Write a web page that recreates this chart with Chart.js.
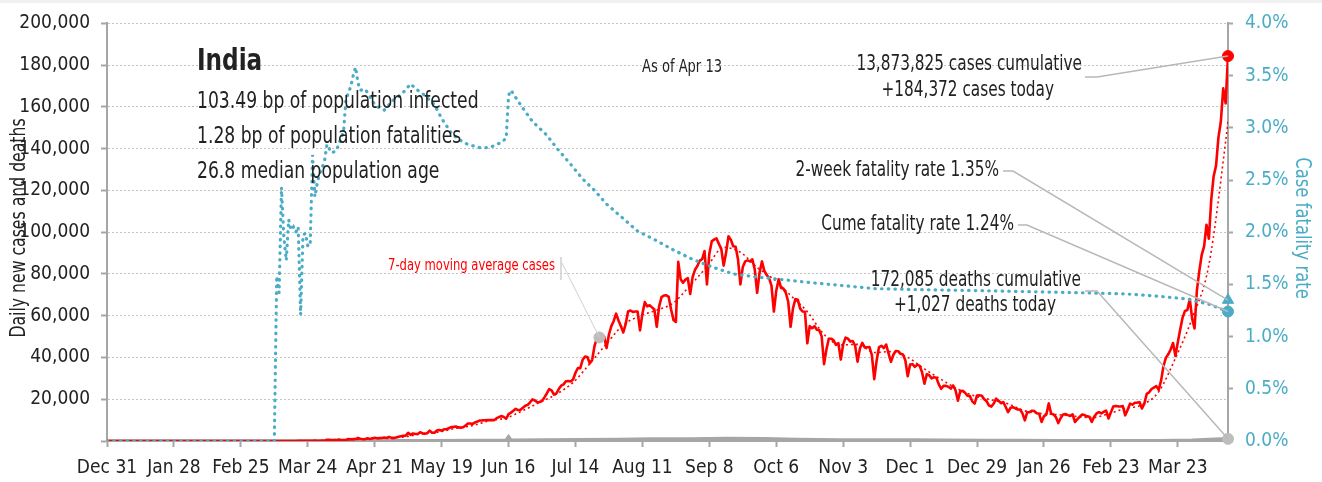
<!DOCTYPE html>
<html>
<head>
<meta charset="utf-8">
<title>India daily cases and case fatality rate</title>
<script src="https://cdn.jsdelivr.net/npm/chart.js@4.4.1/dist/chart.umd.min.js"></script>
<style>
  html, body { margin: 0; padding: 0; background: #fff; }
  canvas { display: block; }
</style>
</head>
<body>
<canvas id="chart" width="1322" height="482"></canvas>
<script>
// x axis is days since Dec 31, 2019; a tick every 28 days
const tickLabels = ['Dec 31', 'Jan 28', 'Feb 25', 'Mar 24', 'Apr 21', 'May 19', 'Jun 16', 'Jul 14',
  'Aug 11', 'Sep 8', 'Oct 6', 'Nov 3', 'Dec 1', 'Dec 29', 'Jan 26', 'Feb 23', 'Mar 23'];
const lastDay = 469; // Apr 13

// daily new cases, one value per day starting Mar 3, 2020
const caseStartDay = 63;
const dailyCases = [
  2, 22, 2, 1, 3, 5, 9,
  15, 8, 10, 10, 12, 11, 23,
  15, 26, 31, 58, 77, 91, 76,
  71, 94, 86, 161, 108, 92, 227,
  146, 601, 545, 478, 515, 505, 704,
  508, 485, 591, 896, 768, 918, 905,
  1463, 1118, 826, 878, 1308, 991, 1334,
  1553, 1336, 1383, 1409, 1684, 1429, 1975,
  1490, 1396, 1718, 1993, 2293, 2487, 2573,
  3932, 2963, 3587, 3364, 3344, 4213, 3604,
  3525, 3722, 4970, 3967, 3970, 4987, 5242,
  4970, 5611, 5609, 6088, 6654, 6767, 6977,
  6535, 6387, 6566, 7466, 8380, 8392, 8171,
  8909, 9304, 9851, 9887, 9971, 9983, 9987,
  9985, 9996, 10956, 11458, 11929, 11502, 10667,
  12881, 13586, 14516, 15413, 14821, 14933, 15968,
  16922, 17296, 18552, 19906, 19459, 18522, 18653,
  19148, 20903, 22771, 24850, 24248, 22252, 22752,
  24879, 26506, 27114, 28637, 28701, 28498, 29429,
  32695, 34956, 34884, 38902, 40425, 40243, 37148,
  39000, 45720, 49310, 48916, 48661, 49931, 44500,
  51000, 55000, 57500, 61000, 57700, 55000, 52000,
  56000, 62000, 62500, 61800, 62000, 62000, 53000,
  60900, 66500, 64500, 65000, 64000, 63000, 54700,
  64500, 68900, 69700, 69800, 69000, 63000, 58000,
  57000, 85800, 77500, 75800, 77300, 78000, 70400,
  78500, 82000, 83800, 86400, 87100, 91000, 75000,
  89700, 95600, 96500, 97000, 94400, 92000, 84000,
  90100, 98000, 96400, 93300, 93000, 86900, 75000,
  83300, 86000, 86500, 86000, 87000, 82200, 71000,
  80500, 86000, 81500, 79500, 78000, 74400, 62000,
  72000, 77500, 73300, 73000, 71000, 66700, 54700,
  63500, 68000, 67700, 63400, 62000, 61900, 46800,
  55000, 54000, 55000, 53300, 53000, 50100, 36800,
  43900, 49000, 49000, 48200, 46000, 46900, 39000,
  46300, 49500, 49000, 47600, 47900, 45700, 38000,
  44300, 47000, 44800, 44900, 45000, 41100, 29600,
  38600, 45000, 45600, 44500, 46200, 41800, 37900,
  41300, 43100, 43000, 41800, 41400, 38700, 31000,
  36600, 36800, 35500, 36600, 36000, 32900, 27400,
  32000, 31500, 30000, 30500, 30300, 27100, 25000,
  26400, 26400, 26000, 25100, 26600, 24300, 19300,
  23900, 24000, 23100, 21700, 21500, 19000, 17900,
  21800, 21900, 21700, 20000, 19100, 17000, 16500,
  18000, 20300, 19300, 18100, 18600, 16300, 13800,
  15900, 16200, 15600, 15100, 15100, 13200, 9900,
  13800, 13800, 14500, 14300, 13300, 13000, 9100,
  11800, 12700, 18000, 13100, 12700, 11400, 8600,
  11000, 12700, 12900, 12400, 12000, 12700, 9100,
  10500, 11600, 12700, 12400, 11800, 11600, 9100,
  11600, 13200, 13800, 13200, 13900, 14600, 10800,
  13700, 16500, 16800, 16600, 16500, 16700, 12300,
  14900, 17900, 17400, 18300, 18400, 18600, 15600,
  17900, 22600, 23300, 24900, 25600, 26300, 24500,
  28900, 35800, 39800, 41500, 43800, 46900, 40700,
  47300, 53400, 59100, 62300, 62700, 68000, 58600,
  53900, 72300, 81500, 89100, 93200, 103600, 96900,
  115700, 126800, 131900, 145400, 152900, 168900, 161700,
  184372
];

// 7-day moving average of cases
const maDays = [0, 69, 76, 83, 90, 97, 104, 111, 118, 125, 132, 139, 146, 153, 160, 167, 174, 181,
  188, 195, 202, 209, 216, 223, 230, 237, 244, 251, 258, 265, 272, 279, 286, 293, 300, 307, 314,
  321, 328, 335, 342, 349, 356, 363, 370, 377, 384, 391, 398, 405, 412, 419, 426, 433, 440, 447,
  454, 461, 468, 469];
const maValues = [0, 3, 13, 53, 120, 500, 725, 1130, 1510, 2060, 3510, 4330, 6100, 7420, 9700,
  11070, 14590, 18470, 22420, 28000, 37040, 46580, 55600, 59900, 62660, 66130, 74540, 83400,
  92740, 90390, 83140, 77410, 69740, 61900, 51030, 46000, 46290, 42390, 42800, 40040, 34540,
  29490, 24870, 21590, 19710, 17770, 14430, 13110, 12610, 11830, 11190, 13010, 15590, 17300,
  23590, 39630, 58770, 84360, 143330, 153140];

// daily deaths
const deathDays = [0, 72, 92, 106, 122, 136, 153, 167, 168, 169, 183, 197, 214, 228, 245, 259,
  275, 289, 306, 320, 336, 350, 367, 381, 398, 412, 426, 440, 454, 461, 469];
const deathValues = [0, 1, 20, 40, 70, 120, 230, 380, 2003, 340, 420, 550, 760, 940, 1000, 1150,
  1100, 750, 520, 480, 500, 390, 260, 180, 110, 100, 110, 160, 400, 700, 1027];

// cumulative case fatality rate, %
const cfrDays = [0, 70, 71, 72, 73, 74, 75, 76, 77, 78, 79, 80, 81, 82, 83, 84, 85, 86, 87, 88,
  89, 90, 91, 92, 93, 94, 95, 96, 97, 98, 99, 100, 101, 102, 103, 104, 105, 106, 108, 110, 112,
  114, 116, 118, 120, 122, 124, 127, 130, 132, 137, 140, 144, 147, 151, 156, 160, 165, 167, 168,
  169, 173, 178, 184, 188, 194, 199, 204, 209, 215, 222, 229, 237, 245, 254, 262, 272, 281, 293,
  307, 321, 340, 366, 408, 425, 438, 452, 461, 469];
const cfrValues = [0, 0, 1.58, 1.42, 2.43, 1.95, 1.73, 2.12, 2.02, 2.05, 2.0, 2.05, 1.21, 1.97,
  1.99, 1.87, 1.87, 2.74, 2.34, 2.48, 2.56, 2.62, 2.68, 2.84, 2.8, 2.76, 2.77, 2.78, 2.85, 2.9,
  2.97, 3.28, 3.33, 3.4, 3.5, 3.58, 3.43, 3.36, 3.37, 3.3, 3.22, 3.19, 3.17, 3.22, 3.27, 3.3,
  3.34, 3.42, 3.36, 3.33, 3.22, 3.09, 2.95, 2.89, 2.84, 2.81, 2.81, 2.86, 2.9, 3.31, 3.36, 3.22,
  3.06, 2.93, 2.81, 2.65, 2.51, 2.40, 2.27, 2.15, 2.01, 1.93, 1.83, 1.74, 1.66, 1.60, 1.57, 1.55,
  1.52, 1.49, 1.46, 1.45, 1.44, 1.42, 1.41, 1.39, 1.36, 1.31, 1.24];

const cfrTwoWeek = 1.35;
const totalCases = 13873825;
const totalDeaths = 172085;
const maMarker = { day: 206, value: 49600 };

const todayCases = dailyCases[dailyCases.length - 1];
const todayDeaths = deathValues[deathValues.length - 1];
const cfrCume = cfrValues[cfrValues.length - 1];

const FONT = '"DejaVu Sans Condensed", "Liberation Sans Narrow", sans-serif';
const SQUEEZE = 0.83; // horizontal squeeze for the annotation text
const RED = '#ff0000';
const BLUE = '#4bacc6';
const GREY = '#a6a6a6';
const INK = '#222222';

const pts = (days, vals) => days.map((d, i) => ({ x: d, y: vals[i] }));
const fmt = v => v.toLocaleString('en-US');

const casePoints = [{ x: 0, y: 0 }].concat(dailyCases.map((v, i) => ({ x: caseStartDay + i, y: v })));

const notes = [
  { text: 'India', x: 197, y: 62, size: 31, weight: 'bold' },
  { text: '103.49 bp of population infected', x: 197, y: 102, size: 23 },
  { text: '1.28 bp of population fatalities', x: 197, y: 137, size: 23 },
  { text: '26.8 median population age', x: 197, y: 172, size: 23 },
  { text: 'As of Apr 13', x: 682, y: 67, size: 17.5, align: 'center' },
  { text: fmt(totalCases) + ' cases cumulative', x: 1082, y: 65, size: 20.5, align: 'right' },
  { text: '+' + fmt(todayCases) + ' cases today', x: 1054, y: 91, size: 20.5, align: 'right' },
  { text: '2-week fatality rate ' + cfrTwoWeek.toFixed(2) + '%', x: 999, y: 171, size: 20.5, align: 'right' },
  { text: 'Cume fatality rate ' + cfrCume.toFixed(2) + '%', x: 1014, y: 225, size: 20.5, align: 'right' },
  { text: fmt(totalDeaths) + ' deaths cumulative', x: 1081, y: 281, size: 20.5, align: 'right' },
  { text: '+' + fmt(todayDeaths) + ' deaths today', x: 1056, y: 306, size: 20.5, align: 'right' },
  { text: '7-day moving average cases', x: 555, y: 266, size: 15.5, align: 'right', color: RED }
];

// leader lines: fixed start near the label, end on a data point
const leaders = [
  { path: [[1085, 77], [1097, 77]], day: lastDay, value: todayCases, axis: 'y' },
  { path: [[1003, 171], [1013, 171]], day: lastDay, value: cfrTwoWeek, axis: 'y1' },
  { path: [[1018, 225], [1027, 225]], day: lastDay, value: cfrCume, axis: 'y1' },
  { path: [[1085, 291], [1097, 291]], day: lastDay, value: todayDeaths, axis: 'y' },
  { path: [[562, 263]], day: maMarker.day, value: maMarker.value, axis: 'y', thin: true }
];

function squeezedText(ctx, text, x, y, rotation) {
  ctx.save();
  ctx.translate(x, y);
  if (rotation) ctx.rotate(rotation);
  ctx.scale(SQUEEZE, 1);
  ctx.fillText(text, 0, 0);
  ctx.restore();
}

const annotations = {
  id: 'annotations',
  beforeDraw(chart) {
    const ctx = chart.ctx;
    ctx.save();
    ctx.fillStyle = '#f0f0f0';
    ctx.fillRect(0, 0, chart.width, 3);
    ctx.restore();
  },
  afterDatasetsDraw(chart) {
    const ctx = chart.ctx;
    const xs = chart.scales.x;
    ctx.save();

    // leader lines
    leaders.forEach(l => {
      const ys = chart.scales[l.axis];
      ctx.beginPath();
      ctx.strokeStyle = l.thin ? '#cfcfcf' : '#b8b8b8';
      ctx.lineWidth = l.thin ? 1 : 1.5;
      ctx.moveTo(l.path[0][0], l.path[0][1]);
      l.path.slice(1).forEach(p => ctx.lineTo(p[0], p[1]));
      ctx.lineTo(xs.getPixelForValue(l.day), ys.getPixelForValue(l.value));
      ctx.stroke();
    });
    ctx.beginPath();
    ctx.strokeStyle = '#cfcfcf';
    ctx.lineWidth = 1.5;
    ctx.moveTo(561, 257);
    ctx.lineTo(561, 280);
    ctx.stroke();

    // labels
    ctx.textBaseline = 'middle';
    notes.forEach(n => {
      ctx.font = (n.weight || 'normal') + ' ' + n.size + 'px ' + FONT;
      ctx.fillStyle = n.color || INK;
      ctx.textAlign = n.align || 'left';
      squeezedText(ctx, n.text, n.x, n.y);
    });

    // axis titles
    ctx.textAlign = 'center';
    ctx.font = '21px ' + FONT;
    ctx.fillStyle = INK;
    squeezedText(ctx, 'Daily new cases and deaths', 20, 228, -Math.PI / 2);
    ctx.font = '22px ' + FONT;
    ctx.fillStyle = BLUE;
    squeezedText(ctx, 'Case fatality rate', 1302, 228, Math.PI / 2);
    ctx.restore();
  }
};

const tickFont = { family: FONT, size: 19 };

new Chart(document.getElementById('chart'), {
  type: 'line',
  data: {
    datasets: [
      // end-of-series markers
      { data: [{ x: lastDay, y: todayCases }], yAxisID: 'y', pointRadius: 5.5, pointBackgroundColor: RED,
        pointBorderColor: RED, showLine: false, clip: false },
      { data: [{ x: lastDay, y: todayDeaths }, { x: maMarker.day, y: maMarker.value }], yAxisID: 'y',
        pointRadius: 5.5, pointBackgroundColor: '#bdbdbd', pointBorderColor: '#bdbdbd', showLine: false, clip: false },
      { data: [{ x: lastDay, y: cfrTwoWeek }], yAxisID: 'y1', pointStyle: 'triangle', pointRadius: 6.5,
        pointBackgroundColor: BLUE, pointBorderColor: BLUE, showLine: false, clip: false },
      { data: [{ x: lastDay, y: cfrCume }], yAxisID: 'y1', pointRadius: 5.5,
        pointBackgroundColor: BLUE, pointBorderColor: BLUE, showLine: false, clip: false },
      // case fatality rate
      { data: pts(cfrDays, cfrValues), yAxisID: 'y1', borderColor: BLUE, borderWidth: 3.2,
        borderDash: [0.5, 6.2], borderCapStyle: 'round', pointRadius: 0, tension: 0 },
      // moving average
      { data: pts(maDays, maValues), yAxisID: 'y', borderColor: RED, borderWidth: 1.6,
        borderDash: [2, 3], pointRadius: 0, cubicInterpolationMode: 'monotone' },
      // daily cases
      { data: casePoints, yAxisID: 'y', borderColor: RED, borderWidth: 2.6, pointRadius: 0,
        tension: 0, borderJoinStyle: 'round' },
      // daily deaths
      { data: pts(deathDays, deathValues), yAxisID: 'y', borderColor: GREY, borderWidth: 3.5,
        pointRadius: 0, tension: 0 }
    ]
  },
  options: {
    responsive: false,
    animation: false,
    layout: { padding: { top: 17, left: 0, right: 0, bottom: 0 } },
    plugins: { legend: { display: false }, tooltip: { enabled: false } },
    scales: {
      x: {
        type: 'linear', min: 0, max: lastDay,
        afterBuildTicks: s => { s.ticks = tickLabels.map((t, i) => ({ value: i * 28 })); },
        afterFit: s => { s.height = 41; },
        ticks: { callback: v => tickLabels[Math.round(v / 28)], color: INK, font: tickFont,
          maxRotation: 0, autoSkip: false, padding: 10 },
        grid: { drawOnChartArea: false, drawTicks: true, tickLength: 6, color: GREY, tickWidth: 2 },
        border: { color: GREY, width: 2 }
      },
      y: {
        position: 'left', min: 0, max: 200000,
        afterFit: s => { s.width = 107; },
        ticks: { stepSize: 20000, callback: v => v === 0 ? '' : fmt(v), color: INK, font: tickFont, padding: 11 },
        grid: { color: '#c4c4c4', lineWidth: 1, tickLength: 6, tickColor: GREY, tickWidth: 2 },
        border: { color: GREY, width: 2, dash: [2, 2] }
      },
      y1: {
        position: 'right', min: 0, max: 4,
        afterFit: s => { s.width = 94; },
        ticks: { stepSize: 0.5, callback: v => v.toFixed(1) + '%', color: BLUE, font: tickFont, padding: 12 },
        grid: { drawOnChartArea: false, drawTicks: true, tickLength: 5, tickColor: GREY, tickWidth: 2 },
        border: { color: GREY, width: 2 }
      }
    }
  },
  plugins: [annotations]
});
</script>
</body>
</html>
